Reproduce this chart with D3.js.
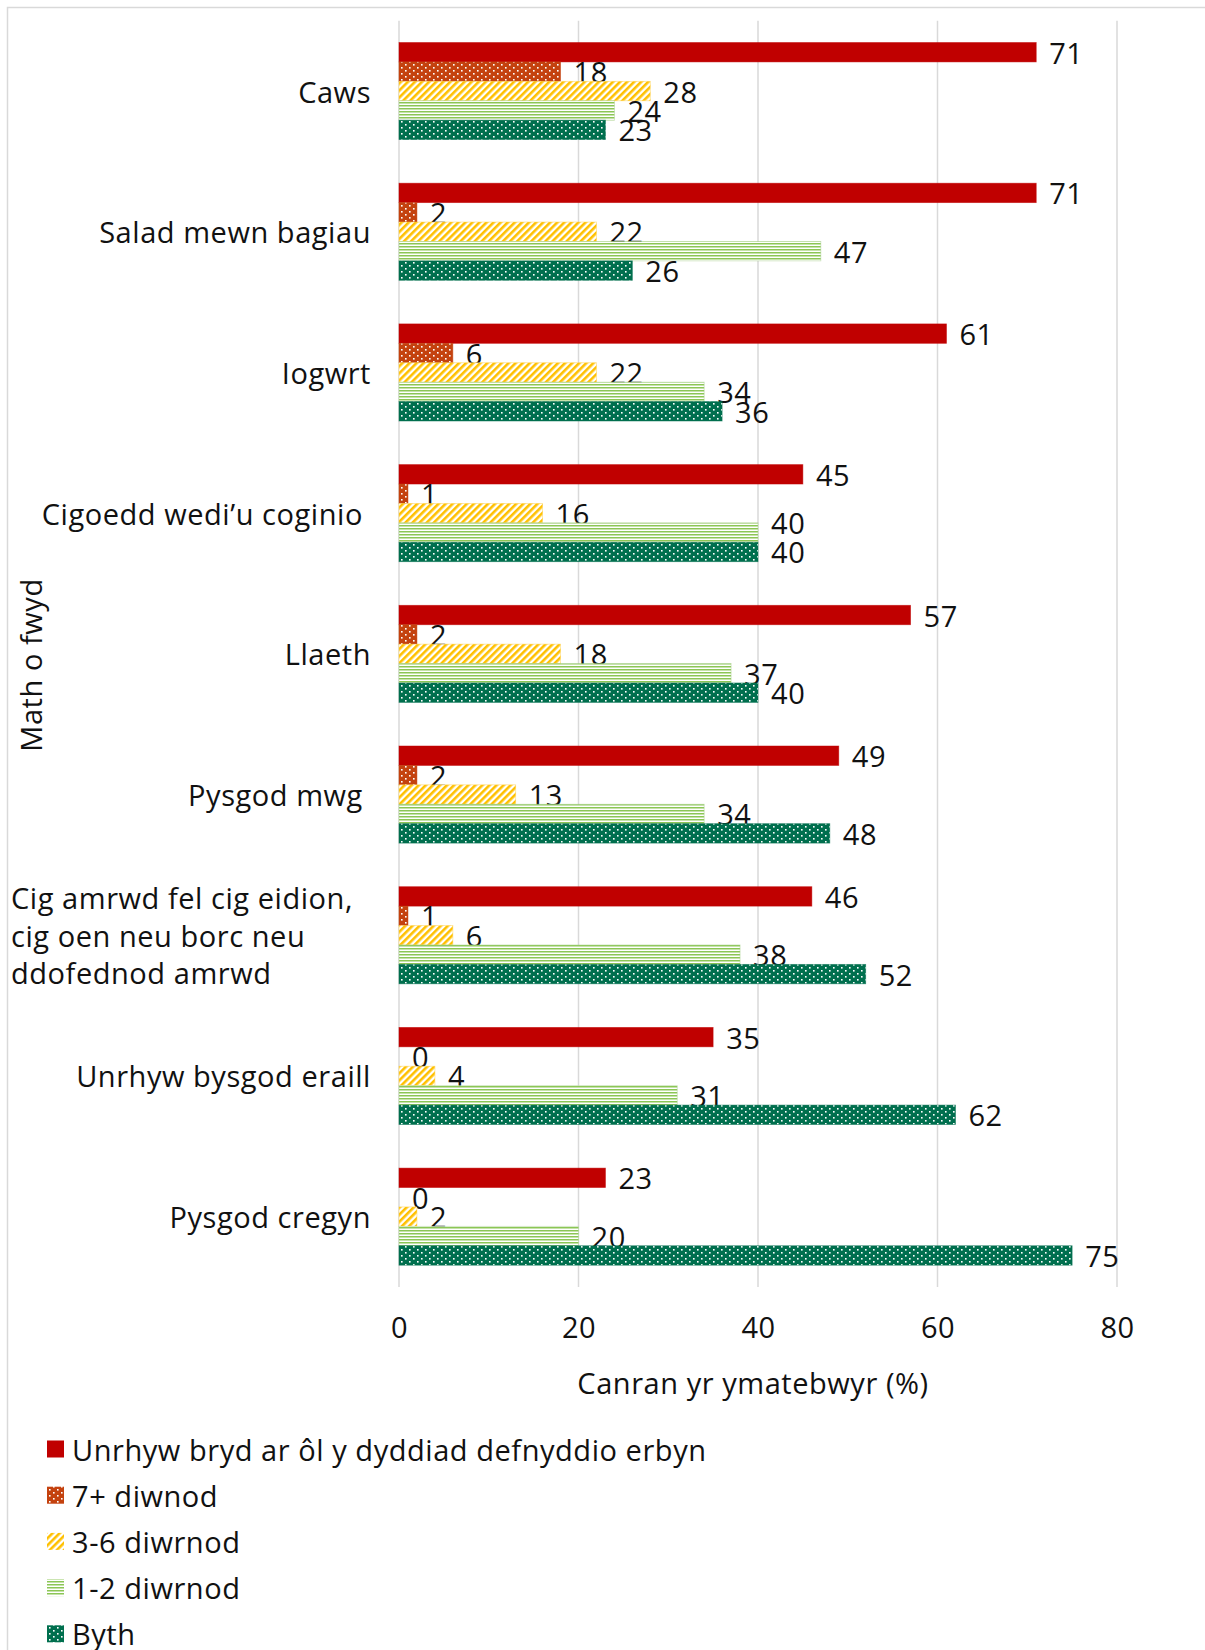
<!DOCTYPE html>
<html><head><meta charset="utf-8">
<script src="https://cdn.jsdelivr.net/npm/d3@7"></script>
<style>body{margin:0;background:#fff}svg{display:block;font-family:"Open Sans",sans-serif}svg text{letter-spacing:0.55px}</style>
</head><body><svg id="c" width="1205" height="1650"></svg>
<script>
const categories = ["Caws","Salad mewn bagiau","Iogwrt","Cigoedd wedi’u coginio\u00A0","Llaeth","Pysgod mwg\u00A0","Cig amrwd fel cig eidion,|cig oen neu borc neu|ddofednod amrwd","Unrhyw bysgod eraill","Pysgod cregyn"];
const seriesNames = ["Unrhyw bryd ar ôl y dyddiad defnyddio erbyn","7+ diwnod","3-6 diwrnod","1-2 diwrnod","Byth"];
const anyTime = [71,71,61,45,57,49,46,35,23];
const days7plus = [18,2,6,1,2,2,1,0,0];
const days3to6 = [28,22,22,16,18,13,6,4,2];
const days1to2 = [24,47,34,40,37,34,38,31,20];
const never = [23,26,36,40,40,48,52,62,75];
const xTicks = [0,20,40,60,80];
const xTitle = "Canran yr ymatebwyr (%)";
const yTitle = "Math o fwyd";

const seriesValues = [anyTime, days7plus, days3to6, days1to2, never];
const fills = ["#C00000","url(#pDotsOrange)","url(#pDiag)","url(#pHoriz)","url(#pDotsGreen)"];
const strokes = ["#C00000","#C4420F","#FFD24D","#A9D18E","#006F4E"];
const FS = 29;

const svg = d3.select("#c");
const defs = svg.append("defs");
function dots(id, color){
  const p = defs.append("pattern").attr("id",id).attr("patternUnits","userSpaceOnUse").attr("width",8).attr("height",6);
  p.append("rect").attr("width",8).attr("height",6).attr("fill",color);
  p.append("rect").attr("x",1).attr("y",1).attr("width",1.6).attr("height",1.6).attr("fill","#fff");
  p.append("rect").attr("x",5).attr("y",4).attr("width",1.6).attr("height",1.6).attr("fill","#fff");
}
dots("pDotsOrange","#C4420F");
dots("pDotsGreen","#006F4E");
const pd = defs.append("pattern").attr("id","pDiag").attr("patternUnits","userSpaceOnUse").attr("width",5).attr("height",5).attr("patternTransform","rotate(45)");
pd.append("rect").attr("width",5).attr("height",5).attr("fill","#fff");
pd.append("rect").attr("width",2.6).attr("height",5).attr("fill","#FFC000");
const ph = defs.append("pattern").attr("id","pHoriz").attr("patternUnits","userSpaceOnUse").attr("width",6).attr("height",3);
ph.append("rect").attr("width",6).attr("height",3).attr("fill","#fff");
ph.append("rect").attr("width",6).attr("height",1.5).attr("fill","#8CC655");

// chart border
svg.append("rect").attr("x",7.5).attr("y",7.5).attr("width",1400).attr("height",1800).attr("fill","none").attr("stroke","#d9d9d9").attr("stroke-width",1.5);

const x = d3.scaleLinear().domain([0,80]).range([399,1117]);
const y = d3.scaleBand().domain(categories).range([20.7,1287]).paddingInner(0.31).paddingOuter(0.155);
const ys = d3.scaleBand().domain(d3.range(5)).range([0,y.bandwidth()]);

// gridlines + tick labels
const xAxis = d3.axisBottom(x).tickValues(xTicks).tickSize(0).tickFormat(d3.format("d"));
const gAx = svg.append("g").attr("transform","translate(0,1287)").call(xAxis);
gAx.select(".domain").remove();
gAx.selectAll("text").attr("font-size",FS).attr("fill","#111").attr("font-family","Open Sans").attr("dy",null).attr("y",39).attr("dominant-baseline","central");
svg.append("g").selectAll("line").data(xTicks).join("line")
  .attr("x1",d=>x(d)).attr("x2",d=>x(d)).attr("y1",20.7).attr("y2",1287)
  .attr("stroke","#d9d9d9").attr("stroke-width",1.5);

// bars
categories.forEach((c,ci)=>{
  const g = svg.append("g");
  seriesValues.forEach((vals,si)=>{
    const v = vals[ci];
    const yy = y(c)+ys(si);
    if (v>0) g.append("rect").attr("x",x(0)).attr("y",yy).attr("width",x(v)-x(0)).attr("height",ys.bandwidth())
      .attr("fill",fills[si]).attr("stroke",strokes[si]).attr("stroke-width",0.8).attr("stroke-opacity",0.6);
    // nudge a label up when the next label would sit exactly on top of it
    const next = si<4 ? seriesValues[si+1][ci] : null;
    const nudge = (next!==null && next===v) ? -10 : 0;
    g.append("text").attr("x",x(v)+13).attr("y",yy+ys.bandwidth()/2+nudge).attr("dominant-baseline","central")
      .attr("font-size",FS).attr("fill","#111").text(v);
  });
  const lines = c.split("|");
  if (lines.length===1){
    svg.append("text").attr("x",371).attr("y",y(c)+y.bandwidth()/2).attr("text-anchor","end").attr("dominant-baseline","central")
      .attr("font-size",FS).attr("fill","#111").style("white-space","pre").text(c);
  } else {
    const mid = y(c)+y.bandwidth()/2, lh = 37.5;
    lines.forEach((l,li)=>{
      svg.append("text").attr("x",11).attr("y",mid+(li-(lines.length-1)/2)*lh).attr("dominant-baseline","central")
        .attr("font-size",FS).attr("fill","#111").text(l);
    });
  }
});

// axis titles
svg.append("text").attr("x",753).attr("y",1382).attr("text-anchor","middle").attr("dominant-baseline","central").attr("font-size",FS).attr("fill","#111").text(xTitle);
svg.append("text").attr("transform","translate(30,665) rotate(-90)").attr("text-anchor","middle").attr("dominant-baseline","central").attr("font-size",FS).attr("fill","#111").text(yTitle);

// legend
seriesNames.forEach((n,i)=>{
  const cy = 1449 + i*46.2;
  svg.append("rect").attr("x",47).attr("y",cy-8.5).attr("width",17).attr("height",17).attr("fill",fills[i]);
  svg.append("text").attr("x",72).attr("y",cy).attr("dominant-baseline","central").attr("font-size",FS).attr("fill","#111").text(n);
});
</script></body></html>
